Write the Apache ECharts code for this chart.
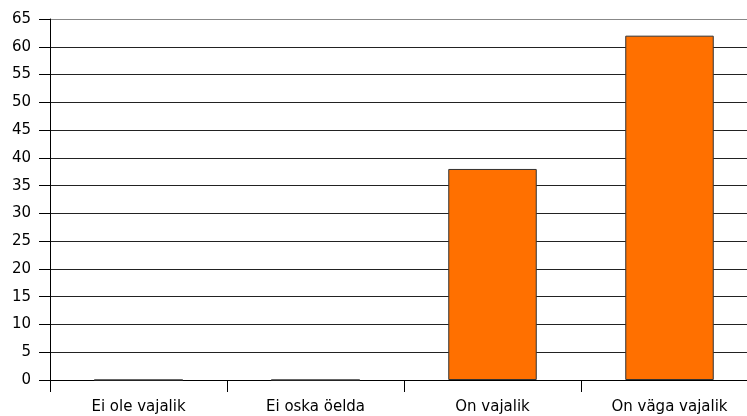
<!DOCTYPE html>
<html><head><meta charset="utf-8">
<script src="https://cdn.jsdelivr.net/npm/echarts@6/dist/echarts.min.js"></script>
<style>html,body{margin:0;padding:0;background:#fff;overflow:hidden}#c{width:770px;height:416px}</style>
</head><body><div id="c"></div>
<script>
const categories = ["Ei ole vajalik", "Ei oska öelda", "On vajalik", "On väga vajalik"];
const values = [0, 0, 38, 62];
const yTicks = {min: 0, max: 65, interval: 5};

const gridColors = [];
for (let i = 0; i < 13; i++) gridColors.push('#222');
gridColors.push('#888');

const chart = echarts.init(document.getElementById('c'), null, {renderer: 'canvas'});
chart.setOption({
  animation: false,
  grid: {left: 50, right: 12, top: 19, bottom: 36, containLabel: false},
  xAxis: {
    type: 'category', data: categories,
    axisLine: {show: true, lineStyle: {color: '#000', width: 1}},
    axisTick: {show: true, length: 12, alignWithLabel: false, lineStyle: {color: '#000'}},
    axisLabel: {color: '#000', fontFamily: 'DejaVu Sans', fontSize: 15, margin: 20},
    splitLine: {show: false}
  },
  yAxis: {
    type: 'value', min: yTicks.min, max: yTicks.max, interval: yTicks.interval,
    axisLine: {show: true, lineStyle: {color: '#000', width: 1}},
    axisTick: {show: true, length: 11, lineStyle: {color: '#000'}},
    axisLabel: {color: '#000', fontFamily: 'DejaVu Sans', fontSize: 15, margin: 19},
    splitLine: {show: true, lineStyle: {color: gridColors, width: 1}}
  },
  series: [{
    type: 'bar', data: values, barWidth: '50%',
    itemStyle: {color: '#ff7000', borderColor: '#333', borderWidth: 1}
  }]
});
</script></body></html>
